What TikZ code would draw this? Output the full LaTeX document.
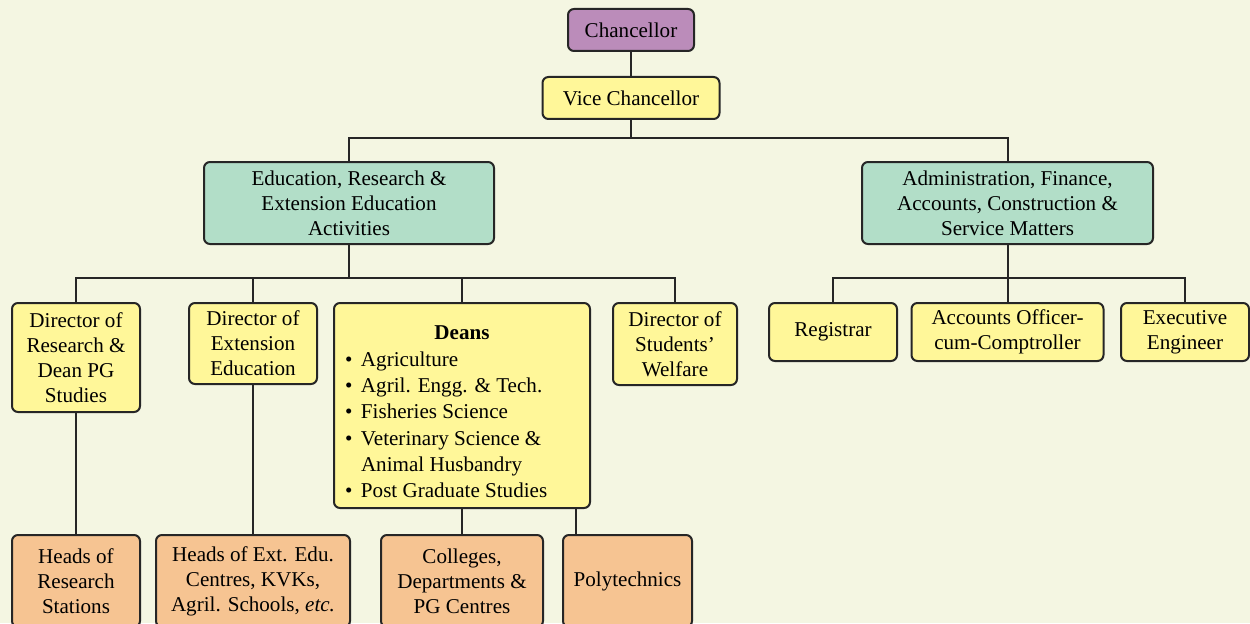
\documentclass[tikz,border=0pt]{standalone}
\usepackage{fontspec}
\setmainfont{Liberation Serif}
\usepackage{xcolor}
\definecolor{chancol}{RGB}{187,140,186}
\definecolor{offcol}{RGB}{255,247,153}
\definecolor{wingcol}{RGB}{178,222,200}
\definecolor{unitcol}{RGB}{246,196,146}
\definecolor{bgcol}{RGB}{244,246,226}
\newcommand{\bul}{\makebox[0.32cm][l]{\textbullet}}

\begin{document}
\begin{tikzpicture}[
  box/.style={draw=black!85,line width=0.04cm,rounded corners=0.12cm,inner sep=0pt,align=center,font=\fontsize{12}{14.2}\selectfont},
  link/.style={line width=0.04cm,black!85}
]
\clip (0,0) rectangle (25,12.46);
\fill [bgcol] (0,0) rectangle (25,12.46);

% top
\node [box,fill=chancol,minimum width=2.52cm,minimum height=0.84cm] (chan) at (12.62,11.86) {Chancellor};
\node [box,fill=offcol,minimum width=3.54cm,minimum height=0.84cm] (vc) at (12.62,10.50) {Vice Chancellor};

% wings
\node [box,fill=wingcol,minimum width=5.8cm,minimum height=1.64cm] (edu) at (6.98,8.40) {Education, Research \&\\Extension Education\\Activities};
\node [box,fill=wingcol,minimum width=5.82cm,minimum height=1.64cm] (adm) at (20.15,8.40) {Administration, Finance,\\Accounts, Construction \&\\Service Matters};

% officers
\node [box,fill=offcol,minimum width=2.56cm,minimum height=2.18cm] (dres) at (1.52,5.31) {Director of\\Research \&\\Dean PG\\Studies};
\node [box,fill=offcol,minimum width=2.56cm,minimum height=1.62cm] (dext) at (5.06,5.59) {Director of\\Extension\\Education};
\node [box,fill=offcol,minimum width=5.12cm,minimum height=4.1cm,text width=4.68cm,align=flush left,font=\fontsize{12}{15}\selectfont] (deans) at (9.24,4.35) {\rule{0pt}{0.54cm}\makebox[4.68cm]{\textbf{Deans}}\\
  \bul Agriculture\\
  \bul Agril. Engg. \& Tech.\\
  \bul Fisheries Science\\
  \bul Veterinary Science \&\\
  \hspace*{0.32cm}Animal Husbandry\\
  \bul Post Graduate Studies};
\node [box,fill=offcol,minimum width=2.48cm,minimum height=1.64cm] (dsw) at (13.50,5.58) {Director of\\Students'\\Welfare};
\node [box,fill=offcol,minimum width=2.56cm,minimum height=1.16cm] (reg) at (16.66,5.82) {Registrar};
\node [box,fill=offcol,minimum width=3.84cm,minimum height=1.16cm] (acc) at (20.15,5.82) {Accounts Officer-\\cum-Comptroller};
\node [box,fill=offcol,minimum width=2.56cm,minimum height=1.16cm] (exe) at (23.70,5.82) {Executive\\Engineer};

% units
\node [box,fill=unitcol,minimum width=2.56cm,minimum height=1.84cm] (hrs) at (1.52,0.84) {Heads of\\Research\\Stations};
\node [box,fill=unitcol,minimum width=3.88cm,minimum height=1.84cm] (hext) at (5.06,0.84) {Heads of Ext. Edu.\\Centres, KVKs,\\Agril. Schools, \textit{etc.}};
\node [box,fill=unitcol,minimum width=3.24cm,minimum height=1.84cm] (col) at (9.24,0.84) {Colleges,\\Departments \&\\PG Centres};
\node [box,fill=unitcol,minimum width=2.58cm,minimum height=1.84cm] (poly) at (12.55,0.84) {Polytechnics};

% links
\coordinate (bus1) at (12.62,9.70);
\coordinate (bus2) at (6.98,6.90);
\coordinate (bus3) at (20.15,6.90);
\coordinate (polytop) at (11.52,1.76);
\draw [link] (chan) -- (vc);
\draw [link] (vc) -- (bus1);
\draw [link] (edu) |- (bus1) -| (adm);
\draw [link] (edu) -- (bus2);
\draw [link] (dres) |- (bus2) -| (dsw);
\draw [link] (dext) -- (dext |- bus2);
\draw [link] (deans) -- (deans |- bus2);
\draw [link] (adm) -- (acc);
\draw [link] (reg) |- (bus3) -| (exe);
\draw [link] (dres) -- (hrs);
\draw [link] (dext) -- (hext);
\draw [link] (deans) -- (col);
\draw [link] (deans.south -| polytop) -- (polytop);
\end{tikzpicture}
\end{document}
